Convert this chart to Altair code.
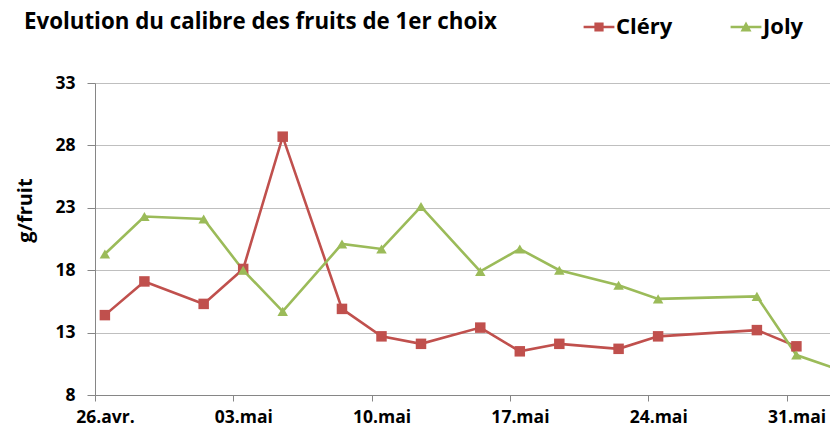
import altair as alt
import pandas as pd

# ---- data ----
title_text = "Evolution du calibre des fruits de 1er choix"
series = ["Cléry", "Joly"]
colors = ["#C0504D", "#9BBB59"]

clery_dates = ["2010-04-26", "2010-04-28", "2010-05-01", "2010-05-03", "2010-05-05",
               "2010-05-08", "2010-05-10", "2010-05-12", "2010-05-15", "2010-05-17",
               "2010-05-19", "2010-05-22", "2010-05-24", "2010-05-29", "2010-05-31"]
clery_values = [14.4, 17.1, 15.3, 18.1, 28.7, 14.9, 12.7, 12.1, 13.4, 11.5,
                12.1, 11.7, 12.7, 13.2, 11.9]

joly_dates = ["2010-04-26", "2010-04-28", "2010-05-01", "2010-05-03", "2010-05-05",
              "2010-05-08", "2010-05-10", "2010-05-12", "2010-05-15", "2010-05-17",
              "2010-05-19", "2010-05-22", "2010-05-24", "2010-05-29", "2010-05-31",
              "2010-06-02"]
joly_values = [19.3, 22.3, 22.1, 18.0, 14.7, 20.1, 19.7, 23.1, 17.9, 19.7,
               18.0, 16.8, 15.7, 15.9, 11.2, 10.1]

start_date = "2010-04-26"
tick_days = [0, 7, 14, 21, 28, 35]
tick_labels = ["26.avr.", "03.mai", "10.mai", "17.mai", "24.mai", "31.mai"]
y_ticks = [8, 13, 18, 23, 28, 33]

# ---- table ----
rows = []
for name, ds, vs in [(series[0], clery_dates, clery_values), (series[1], joly_dates, joly_values)]:
    for d, v in zip(ds, vs):
        rows.append({"série": name, "date": d, "valeur": v})
df = pd.DataFrame(rows)
df["jour"] = (pd.to_datetime(df["date"]) - pd.Timestamp(start_date)).dt.days + 0.5

label_expr = "[" + ",".join(f"'{t}'" for t in tick_labels) + "][indexof([" + \
    ",".join(str(t) for t in tick_days) + "], datum.value)]"

FONT = "Open Sans"

x = alt.X("jour:Q",
          scale=alt.Scale(domain=[0, 37.2], nice=False, zero=False),
          axis=alt.Axis(values=tick_days, labelExpr=label_expr, title=None, grid=False,
                        tickSize=6, tickColor="#868686", domainColor="#868686",
                        labelOffset=10, labelPadding=7, labelFont=FONT, labelFontSize=17.5,
                        labelFontWeight="bold", labelColor="#000000", labelAlign="center"))
y = alt.Y("valeur:Q",
          scale=alt.Scale(domain=[8, 33], nice=False, zero=False),
          axis=alt.Axis(values=y_ticks, title="g/fruit", grid=True, gridColor="#BFBFBF",
                        tickSize=8, tickColor="#868686", domainColor="#868686",
                        labelPadding=12, labelFont=FONT, labelFontSize=17.5,
                        labelFontWeight="bold", labelColor="#000000",
                        titleFont=FONT, titleFontSize=20, titleFontWeight="bold",
                        titleColor="#000000", titleX=-70, titleY=127,
                        titleAngle=-90, titleAlign="center", titleBaseline="middle"))

color_nolegend = alt.Color("série:N", scale=alt.Scale(domain=series, range=colors), legend=None)

base = alt.Chart(df)

lines = base.mark_line(strokeWidth=2.6).encode(x=x, y=y, color=color_nolegend)

points = base.mark_point(filled=True, size=110, opacity=1).encode(
    x=x, y=y, color=color_nolegend,
    shape=alt.Shape("série:N", scale=alt.Scale(domain=series, range=["square", "triangle-up"]),
                    legend=None))

legend_paths = [
    "M-1.4,-0.11H1.4V0.11H-1.4Z M-0.42,-0.42H0.42V0.42H-0.42Z",
    "M-1.4,-0.11H1.4V0.11H-1.4Z M0,-0.5L0.5,0.4H-0.5Z",
]
legend_def = dict(title=None, orient="none", legendX=493, legendY=-67, direction="horizontal",
                  symbolSize=484, symbolStrokeWidth=0, labelFont=FONT, labelFontSize=22,
                  labelFontWeight="bold", labelColor="#000000", labelOffset=6,
                  columnPadding=57, symbolOpacity=1)

legend_layer = base.transform_filter("false").mark_point(filled=True, opacity=1).encode(
    x=x, y=y,
    color=alt.Color("série:N", scale=alt.Scale(domain=series, range=colors),
                    legend=alt.Legend(**legend_def)),
    shape=alt.Shape("série:N", scale=alt.Scale(domain=series, range=legend_paths),
                    legend=alt.Legend(**legend_def)))

title_layer = alt.Chart(pd.DataFrame({"titre": [title_text]})).mark_text(
    align="left", baseline="alphabetic", font=FONT, fontSize=22.3, fontWeight="bold",
    color="#000000"
).encode(text="titre:N", x=alt.value(-71), y=alt.value(-54))

chart = alt.layer(lines, points, legend_layer, title_layer).resolve_scale(
    color="independent", shape="independent"
).properties(
    width=735, height=312,
    autosize=alt.AutoSizeParams(type="none"),
    padding={"left": 87, "top": 75, "right": 0, "bottom": 36},
).configure_view(stroke=None).configure(background="white")

chart.save("out.html", embed_options={"renderer": "svg", "actions": False})
